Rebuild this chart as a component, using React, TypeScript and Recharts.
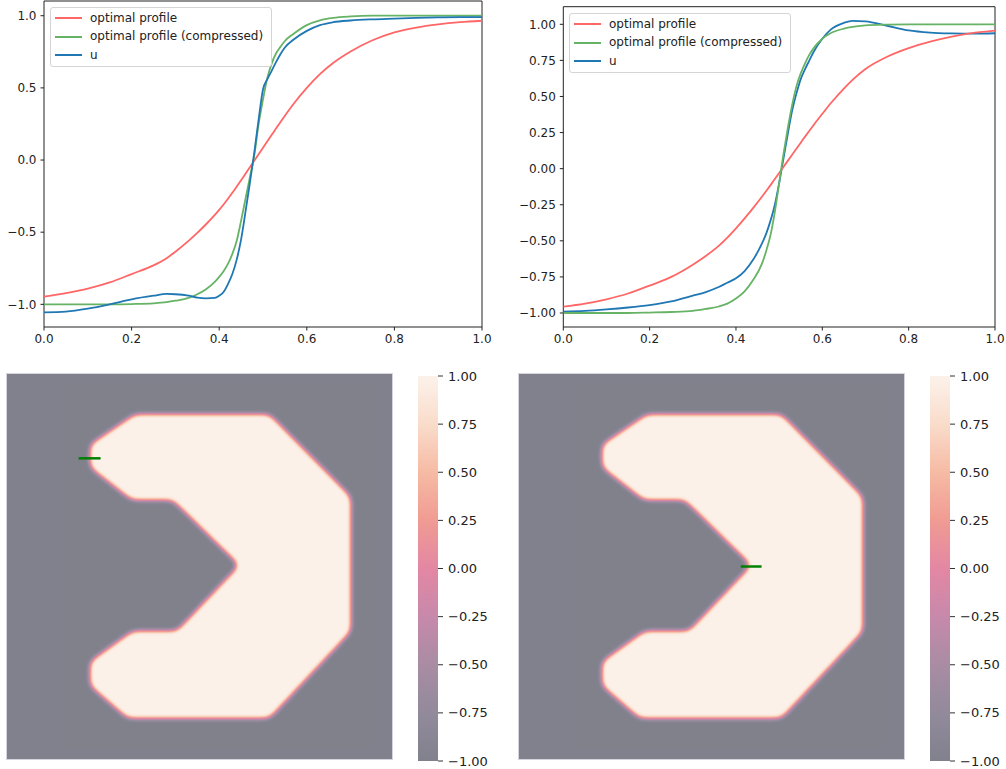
import React from 'react';
import {
  LineChart,
  Line,
  XAxis,
  YAxis,
  Legend,
  ReferenceArea,
  ScatterChart,
  Scatter,
  BarChart,
  Bar,
} from 'recharts';

const FONT = '"DejaVu Sans", "Liberation Sans", sans-serif';

// profile along the cut in the left picture
const xLeft = [0, 0.05, 0.1, 0.15, 0.2, 0.25, 0.28, 0.3, 0.33, 0.35, 0.37, 0.39, 0.4, 0.41, 0.42, 0.43, 0.44, 0.45, 0.46, 0.47, 0.48, 0.49, 0.5, 0.51, 0.52, 0.53, 0.54, 0.55, 0.57, 0.6, 0.63, 0.66, 0.7, 0.75, 0.8, 0.85, 0.9, 0.95, 1];
const optimalLeft = [-0.947, -0.922, -0.891, -0.848, -0.79, -0.73, -0.68, -0.635, -0.56, -0.505, -0.445, -0.38, -0.345, -0.308, -0.268, -0.227, -0.184, -0.14, -0.095, -0.05, -0.005, 0.04, 0.085, 0.13, 0.175, 0.22, 0.264, 0.307, 0.39, 0.5, 0.595, 0.672, 0.752, 0.83, 0.885, 0.918, 0.94, 0.955, 0.965];
const compressedLeft = [-1, -1, -1, -1, -0.998, -0.993, -0.985, -0.975, -0.955, -0.93, -0.895, -0.845, -0.81, -0.77, -0.72, -0.65, -0.56, -0.42, -0.27, -0.12, 0.03, 0.25, 0.42, 0.57, 0.67, 0.74, 0.785, 0.825, 0.875, 0.935, 0.968, 0.985, 0.995, 1, 1, 1, 1, 1, 1];
const uLeft = [-1.055, -1.05, -1.03, -1.0, -0.965, -0.94, -0.928, -0.93, -0.94, -0.953, -0.958, -0.955, -0.94, -0.915, -0.86, -0.79, -0.69, -0.55, -0.36, -0.16, 0.05, 0.28, 0.49, 0.56, 0.62, 0.68, 0.735, 0.78, 0.835, 0.895, 0.935, 0.955, 0.967, 0.975, 0.98, 0.985, 0.988, 0.99, 0.99];

// profile along the cut in the right picture
const xRight = [0, 0.05, 0.1, 0.15, 0.2, 0.25, 0.3, 0.33, 0.36, 0.38, 0.4, 0.42, 0.44, 0.46, 0.47, 0.48, 0.49, 0.5, 0.51, 0.52, 0.53, 0.54, 0.55, 0.56, 0.57, 0.58, 0.6, 0.62, 0.65, 0.67, 0.7, 0.75, 0.8, 0.85, 0.9, 0.95, 1];
const uRight = [-0.99, -0.985, -0.975, -0.962, -0.945, -0.92, -0.88, -0.855, -0.82, -0.79, -0.76, -0.71, -0.63, -0.52, -0.45, -0.36, -0.25, -0.1, 0.07, 0.24, 0.4, 0.52, 0.62, 0.69, 0.75, 0.81, 0.9, 0.965, 1.01, 1.024, 1.02, 0.99, 0.958, 0.943, 0.937, 0.935, 0.938];
const optimalRight = [-0.956, -0.935, -0.905, -0.865, -0.81, -0.75, -0.665, -0.605, -0.535, -0.478, -0.414, -0.345, -0.272, -0.195, -0.155, -0.114, -0.072, -0.03, 0.012, 0.054, 0.096, 0.138, 0.18, 0.222, 0.263, 0.303, 0.38, 0.455, 0.555, 0.615, 0.69, 0.775, 0.835, 0.88, 0.915, 0.94, 0.956];
const compressedRight = [-1, -1, -1, -1, -0.997, -0.993, -0.985, -0.972, -0.955, -0.935, -0.9, -0.85, -0.77, -0.66, -0.57, -0.46, -0.3, -0.1, 0.1, 0.28, 0.44, 0.57, 0.66, 0.73, 0.79, 0.835, 0.9, 0.94, 0.97, 0.982, 0.992, 0.998, 1, 1, 1, 1, 1];

const profileTicksX = [0, 0.2, 0.4, 0.6, 0.8, 1];
const leftTicksY = [-1, -0.5, 0, 0.5, 1];
const rightTicksY = [-1, -0.75, -0.5, -0.25, 0, 0.25, 0.5, 0.75, 1];
const colorbarTicks = [-1, -0.75, -0.5, -0.25, 0, 0.25, 0.5, 0.75, 1];

// outline of the phase u = 1 (image coords 0..100, y pointing down)
const shapeX = [33.2, 68.2, 89.4, 89.4, 68.2, 31.3, 21.5, 21.5, 32.6, 44.1, 60.3, 43.0, 32.4, 21.5, 21.5];
const shapeY = [10.4, 10.4, 31.9, 66.9, 89.5, 89.5, 81.0, 74.7, 66.7, 66.7, 49.7, 32.8, 32.8, 24.3, 18.3];

// the cut segments drawn in green
const cutLeftX = [18.6, 24.3];
const cutLeftY = [21.9, 21.9];
const cutRightX = [57.6, 63.0];
const cutRightY = [50.0, 50.0];

// colormap from -1 (first) to 1 (last)
const cmap = ['#81818d', '#928a9b', '#a98ca3', '#c789ab', '#e387a3', '#f09b93', '#f6bba4', '#f9dccb', '#fcf2ea'];

const RED = '#ff6666';
const GREEN = '#66b366';
const BLUE = '#1f77b4';

const fmt = (d: number) => (v: number) => (v < 0 ? '\u2212' : '') + Math.abs(v).toFixed(d);

const channel = (k: number) =>
  cmap.map((c) => (parseInt(c.slice(1 + 2 * k, 3 + 2 * k), 16) / 255).toFixed(4)).join(' ');

const LegendBox = (props: any) => (
  <div
    style={{
      border: '1px solid #d5d5d5',
      borderRadius: 3,
      background: 'rgba(255,255,255,0.8)',
      padding: '1px 8px 2px 4px',
      fontFamily: FONT,
      fontSize: 12,
      lineHeight: '18.4px',
      color: '#222',
      whiteSpace: 'nowrap',
    }}
  >
    {(props.payload || []).map((p: any) => (
      <div key={p.value} style={{ display: 'flex', alignItems: 'center' }}>
        <span style={{ display: 'inline-block', width: 27, borderTop: `2px solid ${p.color}`, marginRight: 8 }} />
        {p.value}
      </div>
    ))}
  </div>
);

const renderNothing = () => <g />;

const renderLevelSet = (p: any) => {
  const d = p.points.map((q: any, i: number) => `${i ? 'L' : 'M'}${q.x},${q.y}`).join('') + 'Z';
  return <path d={d} fill="#fff" stroke="none" filter="url(#levelset)" />;
};

const ProfileChart = ({ xs, series, yDomain, yTicks, yDigits, left, legendPos, yWidth, margin }: any) => {
  const data = xs.map((x: number, i: number) => {
    const row: any = { x };
    series.forEach((s: any) => (row[s.key] = s.values[i]));
    return row;
  });
  return (
    <div style={{ position: 'absolute', left, top: 0 }}>
      <LineChart width={left === 0 ? 500 : 506} height={362} data={data} margin={margin}>
        <XAxis
          type="number"
          dataKey="x"
          domain={[0, 1]}
          ticks={profileTicksX}
          interval={0}
          tickFormatter={fmt(1)}
          allowDataOverflow
          height={30}
          tickSize={3.5}
          tickMargin={3.5}
          axisLine={false}
          tickLine={{ stroke: '#222' }}
          tick={{ fontSize: 12, fill: '#222', fontFamily: FONT }}
        />
        <YAxis
          type="number"
          domain={yDomain}
          ticks={yTicks}
          interval={0}
          tickFormatter={fmt(yDigits)}
          allowDataOverflow
          width={yWidth}
          tickSize={3.5}
          tickMargin={4}
          axisLine={false}
          tickLine={{ stroke: '#222' }}
          tick={{ fontSize: 12, fill: '#222', fontFamily: FONT }}
        />
        {series.map((s: any) => (
          <Line
            key={s.key}
            dataKey={s.key}
            name={s.name}
            type="monotone"
            stroke={s.color}
            strokeWidth={1.8}
            dot={false}
            isAnimationActive={false}
          />
        ))}
        <ReferenceArea x1={0} x2={1} y1={yDomain[0]} y2={yDomain[1]} fill="none" stroke="#222" strokeWidth={1} ifOverflow="visible" />
        <Legend
          layout="vertical"
          align="center"
          verticalAlign="middle"
          content={LegendBox}
          wrapperStyle={{ left: legendPos[0], top: legendPos[1], width: 'auto', height: 'auto' }}
        />
      </LineChart>
    </div>
  );
};

const LevelSetImage = ({ left, cutX, cutY }: any) => {
  const outline = shapeX.map((x, i) => ({ x, y: shapeY[i] }));
  const cut = cutX.map((x: number, i: number) => ({ x, y: cutY[i] }));
  return (
    <div style={{ position: 'absolute', left, top: 374.3, width: 385, height: 385, background: cmap[0], outline: '1px solid #d4d4dc' }}>
      <ScatterChart width={385} height={385} margin={{ top: 0, right: 0, bottom: 0, left: 0 }}>
        <XAxis type="number" dataKey="x" domain={[0, 100]} hide />
        <YAxis type="number" dataKey="y" domain={[0, 100]} reversed hide />
        <Scatter data={outline} line={renderLevelSet} shape={renderNothing} isAnimationActive={false} />
        <Scatter data={cut} line={{ stroke: '#008000', strokeWidth: 2.5 }} shape={renderNothing} isAnimationActive={false} />
      </ScatterChart>
    </div>
  );
};

const Colorbar = ({ left }: any) => (
  <div style={{ position: 'absolute', left, top: 367.5 }}>
    <BarChart width={76} height={401} data={[{ name: 'u', range: [-1, 1] }]} margin={{ top: 8, right: 0, bottom: 8, left: 0 }} barCategoryGap={0}>
      <XAxis dataKey="name" hide />
      <YAxis
        orientation="right"
        type="number"
        domain={[-1, 1]}
        ticks={colorbarTicks}
        interval={0}
        tickFormatter={fmt(2)}
        width={56}
        axisLine={false}
        tickSize={5}
        tickMargin={5}
        tickLine={{ stroke: '#333' }}
        tick={{ fontSize: 13, fill: '#222', fontFamily: FONT }}
      />
      <Bar dataKey="range" fill="url(#cbGrad)" isAnimationActive={false} />
    </BarChart>
  </div>
);

export default function App() {
  return (
    <div style={{ position: 'absolute', left: 0, top: 0, width: 1006, height: 769, background: '#fff', overflow: 'hidden', fontFamily: FONT }}>
      <svg width={0} height={0} style={{ position: 'absolute' }}>
        <defs>
          <filter id="levelset" x="-10%" y="-10%" width="120%" height="120%" colorInterpolationFilters="sRGB">
            <feGaussianBlur in="SourceAlpha" stdDeviation={4} result="wide" />
            <feComponentTransfer in="wide" result="rounded">
              <feFuncA type="linear" slope={10} intercept={-4.5} />
            </feComponentTransfer>
            <feGaussianBlur in="rounded" stdDeviation={2.1} result="blur" />
            <feColorMatrix in="blur" type="matrix" values="0 0 0 1 0  0 0 0 1 0  0 0 0 1 0  0 0 0 0 1" result="level" />
            <feComponentTransfer in="level">
              <feFuncR type="table" tableValues={channel(0)} />
              <feFuncG type="table" tableValues={channel(1)} />
              <feFuncB type="table" tableValues={channel(2)} />
            </feComponentTransfer>
          </filter>
          <linearGradient id="cbGrad" x1="0" y1="0" x2="0" y2="1">
            {cmap.map((c, i) => (
              <stop key={i} offset={`${100 - (i * 100) / (cmap.length - 1)}%`} stopColor={c} />
            )).reverse()}
          </linearGradient>
        </defs>
      </svg>

      <ProfileChart
        left={0}
        xs={xLeft}
        series={[
          { key: 'optimal', name: 'optimal profile', values: optimalLeft, color: RED },
          { key: 'compressed', name: 'optimal profile (compressed)', values: compressedLeft, color: GREEN },
          { key: 'u', name: 'u', values: uLeft, color: BLUE },
        ]}
        yDomain={[-1.157, 1.102]}
        yTicks={leftTicksY}
        yDigits={1}
        yWidth={40}
        margin={{ top: 1, right: 18, bottom: 5, left: 4 }}
        legendPos={[50, 7]}
      />
      <ProfileChart
        left={500}
        xs={xRight}
        series={[
          { key: 'u', name: 'u', values: uRight, color: BLUE },
          { key: 'optimal', name: 'optimal profile', values: optimalRight, color: RED },
          { key: 'compressed', name: 'optimal profile (compressed)', values: compressedRight, color: GREEN },
        ]}
        yDomain={[-1.097, 1.122]}
        yTicks={rightTicksY}
        yDigits={2}
        yWidth={50}
        margin={{ top: 6.7, right: 11, bottom: 5, left: 13.3 }}
        legendPos={[69, 13]}
      />

      <LevelSetImage left={7.3} cutX={cutLeftX} cutY={cutLeftY} />
      <Colorbar left={417.7} />
      <LevelSetImage left={519.3} cutX={cutRightX} cutY={cutRightY} />
      <Colorbar left={929.7} />
    </div>
  );
}
